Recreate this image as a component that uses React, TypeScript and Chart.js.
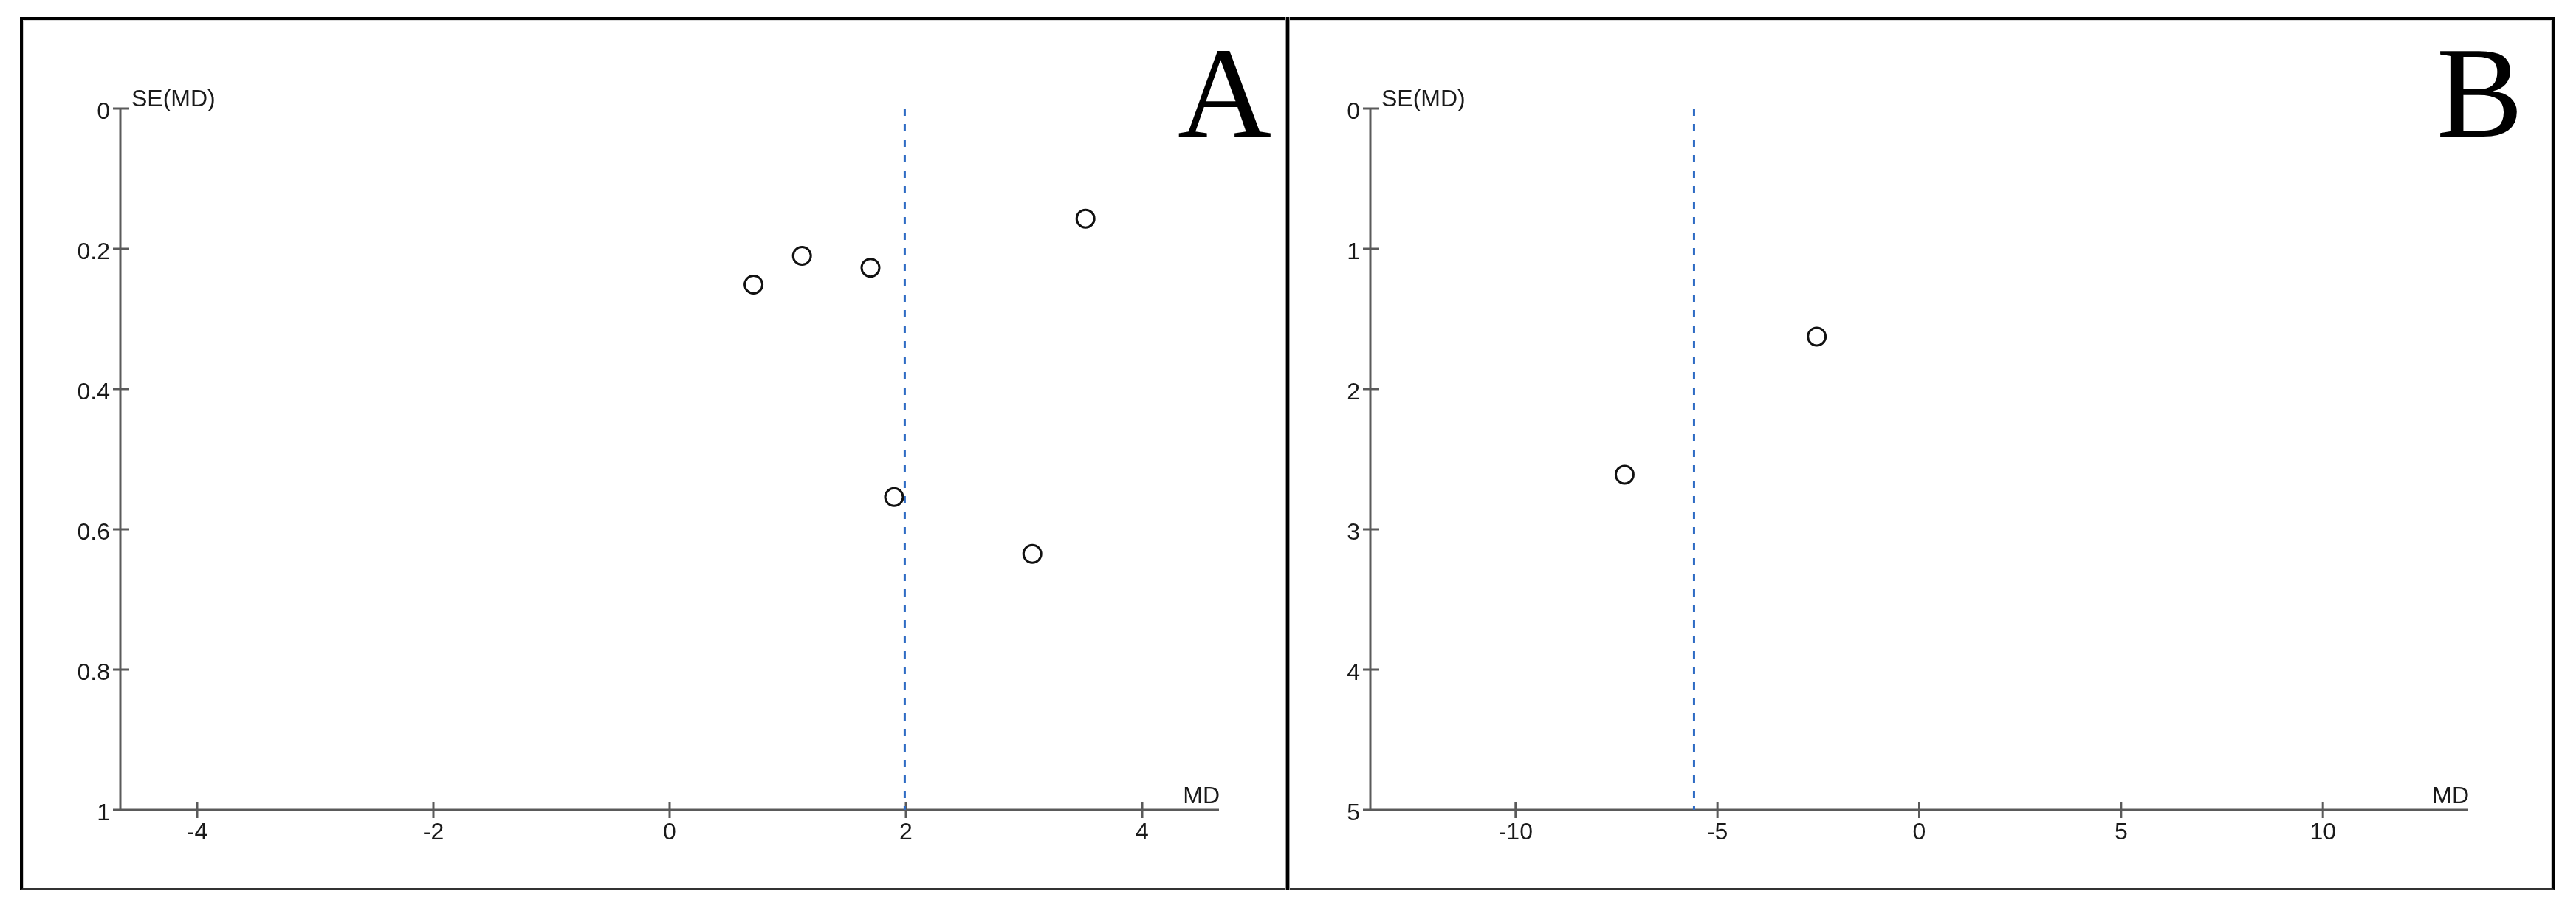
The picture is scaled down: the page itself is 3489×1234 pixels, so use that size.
import React, { useEffect, useRef } from 'react';
import { Chart, registerables } from 'chart.js';

Chart.register(...registerables);

// ---- Data ----
const xTicksA = [-4, -2, 0, 2, 4];
const yTicksA = [0, 0.2, 0.4, 0.6, 0.8, 1];
const mdA = [0.71, 1.12, 1.70, 3.52, 1.90, 3.07];
const seA = [0.251, 0.21, 0.227, 0.157, 0.554, 0.635];
const pooledA = 1.99;

const xTicksB = [-10, -5, 0, 5, 10];
const yTicksB = [0, 1, 2, 3, 4, 5];
const mdB = [-2.54, -7.3];
const seB = [1.626, 2.61];
const pooledB = -5.58;

const FONT = '"Liberation Sans", Arial, Helvetica, sans-serif';
const SERIF = '"Liberation Serif", "Times New Roman", Times, serif';
const AXIS = '#5a5a5a';
const TEXT = '#1a1a1a';

const funnelAxes = {
  id: 'funnelAxes',
  beforeDatasetsDraw(chart: any, _args: any, o: any) {
    const { ctx, chartArea: ca, scales } = chart;
    const x = scales.x;
    const y = scales.y;
    ctx.save();
    ctx.strokeStyle = AXIS;
    ctx.lineWidth = 3;
    ctx.beginPath();
    ctx.moveTo(ca.left, ca.top);
    ctx.lineTo(ca.left, ca.bottom);
    ctx.moveTo(ca.left - 10, ca.bottom);
    ctx.lineTo(ca.right, ca.bottom);
    for (const t of y.ticks) {
      const py = y.getPixelForValue(t.value);
      ctx.moveTo(ca.left - 10, py);
      ctx.lineTo(ca.left + 12, py);
    }
    for (const t of x.ticks) {
      const px = x.getPixelForValue(t.value);
      ctx.moveTo(px, ca.bottom - 10);
      ctx.lineTo(px, ca.bottom + 11);
    }
    ctx.stroke();

    ctx.fillStyle = TEXT;
    ctx.font = `32px ${FONT}`;
    ctx.textBaseline = 'alphabetic';
    ctx.textAlign = 'left';
    ctx.fillText(o.yTitle, ca.left + 15, ca.top - 3);
    ctx.textAlign = 'right';
    ctx.fillText(o.xTitle, ca.right + 1, ca.bottom - 9);

    ctx.fillStyle = '#000';
    ctx.font = `176px ${SERIF}`;
    ctx.textAlign = 'left';
    ctx.fillText(o.letter, o.letterX, o.letterY);
    ctx.restore();
  },
};

function makeConfig(p: {
  md: number[]; se: number[]; pooled: number; xTicks: number[]; yTicks: number[];
  xMin: number; xMax: number; yMax: number; padding: any; letter: string; letterX: number;
}) {
  return {
    type: 'scatter' as const,
    data: {
      datasets: [
        {
          type: 'line' as const,
          data: [{ x: p.pooled, y: 0 }, { x: p.pooled, y: p.yMax }],
          borderColor: '#2e6bc4',
          borderWidth: 3,
          borderDash: [10, 11],
          pointRadius: 0,
          fill: false,
          tension: 0,
          order: 2,
        },
        {
          type: 'scatter' as const,
          data: p.md.map((v, i) => ({ x: v, y: p.se[i] })),
          pointStyle: 'circle',
          pointRadius: 12,
          pointBorderWidth: 3,
          pointBorderColor: '#111',
          pointBackgroundColor: 'rgba(255,255,255,0)',
          order: 1,
        },
      ],
    },
    options: {
      animation: false,
      responsive: false,
      devicePixelRatio: 1,
      layout: { padding: p.padding },
      plugins: {
        legend: { display: false },
        tooltip: { enabled: false },
        funnelAxes: { yTitle: 'SE(MD)', xTitle: 'MD', letter: p.letter, letterX: p.letterX, letterY: 185 },
      },
      scales: {
        x: {
          type: 'linear',
          position: 'bottom',
          min: p.xMin,
          max: p.xMax,
          grid: { display: false, drawTicks: false },
          border: { display: false },
          ticks: {
            font: { family: FONT, size: 32 },
            color: TEXT,
            padding: 12,
            maxRotation: 0,
            autoSkip: false,
            callback: (v: any) => String(v),
          },
          afterBuildTicks: (s: any) => { s.ticks = p.xTicks.map((v) => ({ value: v })); },
          afterFit: (s: any) => { s.height = 80; },
        },
        y: {
          type: 'linear',
          position: 'left',
          min: 0,
          max: p.yMax,
          reverse: true,
          grid: { display: false, drawTicks: false },
          border: { display: false },
          ticks: {
            font: { family: FONT, size: 32 },
            color: TEXT,
            padding: 14,
            labelOffset: 5,
            autoSkip: false,
            callback: (v: any) => String(v),
          },
          afterBuildTicks: (s: any) => { s.ticks = p.yTicks.map((v) => ({ value: v })); },
          afterFit: (s: any) => { s.width = 100; },
        },
      },
    },
    plugins: [funnelAxes],
  };
}

function Panel(props: { cfg: any; left: number; width: number }) {
  const ref = useRef<HTMLCanvasElement | null>(null);
  useEffect(() => {
    if (!ref.current) return;
    const chart = new Chart(ref.current, props.cfg);
    return () => chart.destroy();
  }, []);
  return (
    <canvas
      ref={ref}
      width={props.width}
      height={1234}
      style={{ position: 'absolute', left: props.left, top: 0, width: props.width, height: 1234 }}
    />
  );
}

export default function App() {
  const cfgA = makeConfig({
    md: mdA, se: seA, pooled: pooledA, xTicks: xTicksA, yTicks: yTicksA,
    xMin: -4.65, xMax: 4.65, yMax: 1,
    padding: { left: 63, top: 147, right: 93, bottom: 57 },
    letter: 'A', letterX: 1595,
  });
  const cfgB = makeConfig({
    md: mdB, se: seB, pooled: pooledB, xTicks: xTicksB, yTicks: yTicksB,
    xMin: -13.6, xMax: 13.6, yMax: 5,
    padding: { left: 12, top: 147, right: 146, bottom: 57 },
    letter: 'B', letterX: 1556,
  });
  return (
    <div style={{ position: 'absolute', left: 0, top: 0, width: 3489, height: 1234, background: '#fff', overflow: 'hidden' }}>
      <Panel cfg={cfgA} left={0} width={1744} />
      <Panel cfg={cfgB} left={1744} width={1745} />
      <div
        style={{
          position: 'absolute', left: 27, top: 23, width: 3434, height: 1183, boxSizing: 'border-box',
          borderTop: '4px solid #000', borderLeft: '4px solid #000', borderRight: '4px solid #000',
          borderBottom: '3px solid #333',
          boxShadow: 'inset 0 2px 0 #dcdcdc, inset 2px 0 0 #cfcfcf, inset -2px 0 0 #cfcfcf',
          pointerEvents: 'none',
        }}
      />
      <div
        style={{
          position: 'absolute', left: 1742, top: 23, width: 4, height: 1183, background: '#000',
          boxShadow: '1px 0 0 #999, -1px 0 0 #999', pointerEvents: 'none',
        }}
      />
    </div>
  );
}
